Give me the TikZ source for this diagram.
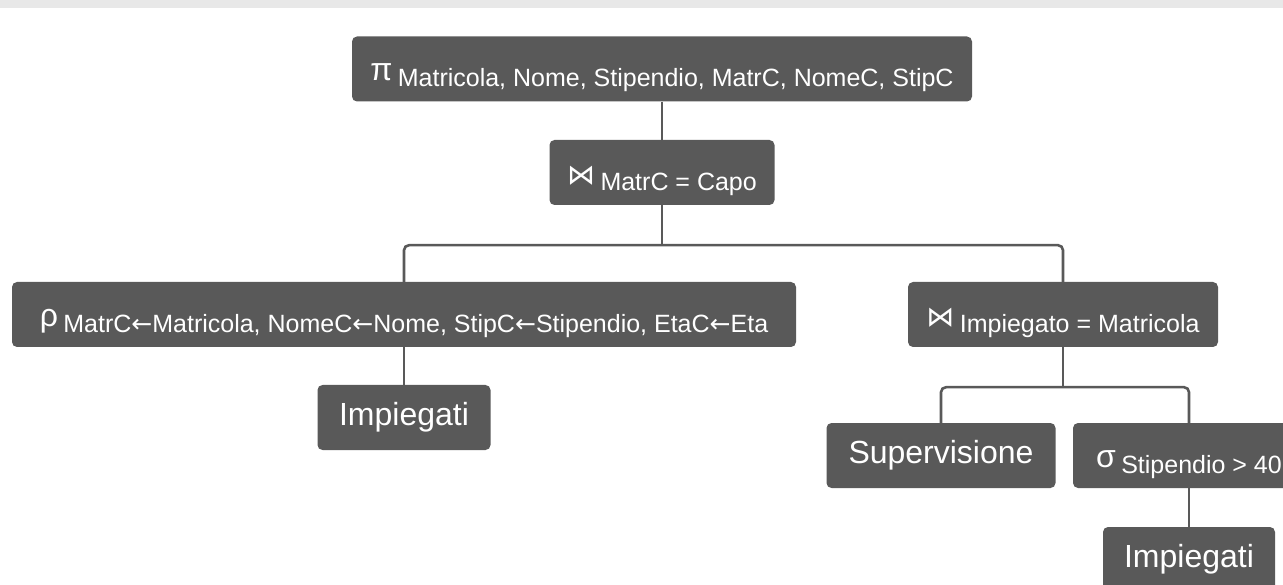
\documentclass[tikz,border=0pt]{standalone}
\usepackage{fontspec}
\setmainfont{Liberation Sans}
\newfontfamily\symf{DejaVu Sans}
\definecolor{nodegray}{HTML}{595959}
\definecolor{bandgray}{HTML}{E8E8E8}
\newcommand\opnode[2]{{#1}\,\raisebox{-6pt}{\fontsize{25}{30}\selectfont #2}}
\newcommand\joinsym{{\symf\fontsize{28}{32}\selectfont ⋈}}
\newcommand\larr{{\symf\fontsize{25}{30}\selectfont ←}}
\begin{document}
\begin{tikzpicture}[x=1pt,y=-1pt,
  box/.style={fill=nodegray, rounded corners=5pt, inner sep=0pt, minimum height=65pt,
    text=white, font=\fontsize{32}{38}\selectfont},
  opbox/.style={box, text height=30pt, text depth=6pt},
  link/.style={draw=nodegray, line width=2.6pt, rounded corners=5pt}]
\useasboundingbox (0,0) rectangle (1283,585);
\fill[bandgray] (0,0) rectangle (1283,8);

\node[opbox, minimum width=620pt] (pi) at (662,69) {\opnode{π}{Matricola, Nome, Stipendio, MatrC, NomeC, StipC}};
\node[opbox, minimum width=225pt] (j1) at (662,172.5) {\opnode{\joinsym}{MatrC = Capo}};
\node[opbox, minimum width=784pt] (rho) at (404,314.5) {\opnode{ρ}{MatrC\larr Matricola, NomeC\larr Nome, StipC\larr Stipendio, EtaC\larr Eta}};
\node[opbox, minimum width=310pt] (j2) at (1063,314.5) {\opnode{\joinsym}{Impiegato = Matricola}};
\node[box, minimum width=173pt] (imp1) at (404,417.5) {Impiegati};
\node[box, minimum width=229pt] (sup) at (941,455.5) {Supervisione};
\node[opbox, minimum width=232pt] (sig) at (1189,455.5) {\opnode{σ}{Stipendio > 40}};
\node[box, minimum width=172pt] (imp2) at (1189,559.5) {Impiegati};

\draw[link] (pi.south) -- (j1.north);
\draw[link] (j1.south) -- ++(0,40) coordinate (b1);
\draw[link] (rho.north) |- (b1) -| (j2.north);
\draw[link] (rho.south) -- (imp1.north);
\draw[link] (j2.south) -- ++(0,40) coordinate (b2);
\draw[link] (sup.north) |- (b2) -| (sig.north);
\draw[link] (sig.south) -- (imp2.north);
\end{tikzpicture}
\end{document}
